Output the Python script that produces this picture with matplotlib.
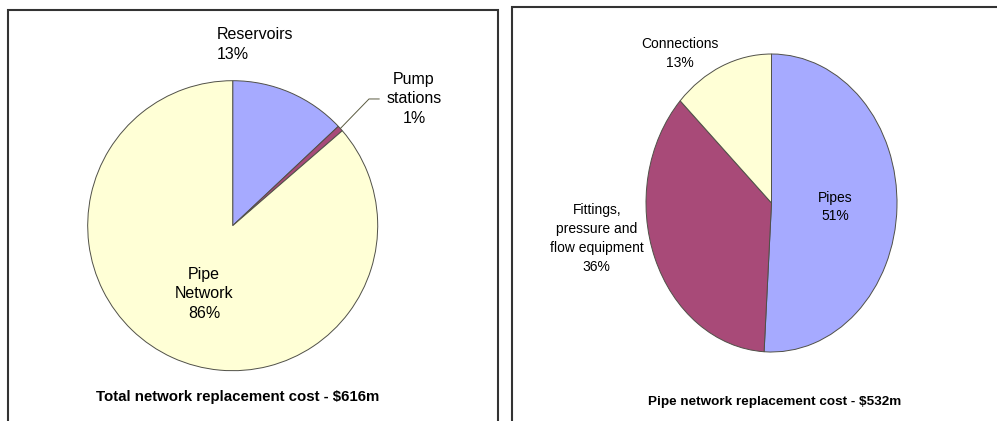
import numpy as np
import matplotlib
matplotlib.use("Agg")
from matplotlib import pyplot as plt
from matplotlib import font_manager
from matplotlib.patches import Rectangle

# replacement cost, $m
total_names = ["Reservoirs", "Pump\nstations", "Pipe\nNetwork"]
total_costs = [80, 4, 532]
pipe_names = ["Pipes", "Fittings,\npressure and\nflow equipment", "Connections"]
pipe_costs = [271, 192, 69]

blue = "#A6AAFF"
plum = "#A84A78"
cream = "#FFFFD6"

W, H = 997, 421
fig = plt.figure(figsize=(W / 100, H / 100), dpi=100)
plt.rcParams["font.family"] = ["Liberation Sans", "DejaVu Sans"]

try:
    font_manager.findfont("Liberation Sans Narrow", fallback_to_default=False)
    narrow = ["Liberation Sans Narrow", "Liberation Sans"]
except ValueError:
    narrow = ["Liberation Sans", "DejaVu Sans"]


def px_axes(x0, y0, x1, y1):
    # axes placed by pixel box (top-left origin)
    return fig.add_axes([x0 / W, 1 - y1 / H, (x1 - x0) / W, (y1 - y0) / H])


def pct(v, vals):
    return "%d%%" % round(100.0 * v / sum(vals))


def draw_pie(ax, vals, colors):
    ax.pie(vals, colors=colors, startangle=90, counterclock=False, radius=1,
           wedgeprops=dict(edgecolor="#505048", linewidth=0.7))
    ax.set_aspect("auto")
    ax.set_xlim(-1, 1)
    ax.set_ylim(-1, 1)
    ax.axis("off")


# panel frames
fig.patches.append(Rectangle((8 / W, -0.1), (497.5 - 8) / W, 1.1 - 10 / H,
                             transform=fig.transFigure, fill=False,
                             edgecolor="#333333", linewidth=1.5))
fig.patches.append(Rectangle((512 / W, -0.1), 0.6, 1.1 - 7.5 / H,
                             transform=fig.transFigure, fill=False,
                             edgecolor="#333333", linewidth=1.5))

# total network
ax1 = px_axes(87.7, 80.7, 377.7, 370.7)
draw_pie(ax1, total_costs, [blue, plum, cream])
ax1.text(-0.108, 1.25, total_names[0] + "\n" + pct(total_costs[0], total_costs),
         ha="left", va="center", fontsize=11.5, linespacing=1.4)
ax1.text(1.25, 0.874, total_names[1] + "\n" + pct(total_costs[1], total_costs),
         ha="center", va="center", fontsize=11.5, linespacing=1.4)
ax1.text(-0.197, -0.471, total_names[2] + "\n" + pct(total_costs[2], total_costs),
         ha="center", va="center", fontsize=11.5, linespacing=1.4)
mid = np.deg2rad(90 - 360.0 * (total_costs[0] + total_costs[1] / 2) / sum(total_costs))
ax1.plot([np.cos(mid), 0.94, 1.01], [np.sin(mid), 0.874, 0.874],
         color="#5a5a40", linewidth=0.7, clip_on=False)
fig.text(238 / W, 1 - 397 / H, "Total network replacement cost - $616m",
         ha="center", va="center", fontsize=10.8, fontweight="bold")

# pipe network
ax2 = px_axes(646, 54, 897, 352)
draw_pie(ax2, pipe_costs, [blue, plum, cream])
ax2.text(0.506, -0.027, pipe_names[0] + "\n" + pct(pipe_costs[0], pipe_costs),
         ha="center", va="center", fontsize=10, linespacing=1.45, family=narrow)
ax2.text(-1.392, -0.238, pipe_names[1] + "\n" + pct(pipe_costs[1], pipe_costs),
         ha="center", va="center", fontsize=10, linespacing=1.45, family=narrow)
ax2.text(-0.729, 1.003, pipe_names[2] + "\n" + pct(pipe_costs[2], pipe_costs),
         ha="center", va="center", fontsize=10, linespacing=1.45, family=narrow)
fig.text(774.5 / W, 1 - 402 / H, "Pipe network replacement cost - $532m",
         ha="center", va="center", fontsize=9.7, fontweight="bold", family=narrow)

fig.savefig("out.png", dpi=100)
